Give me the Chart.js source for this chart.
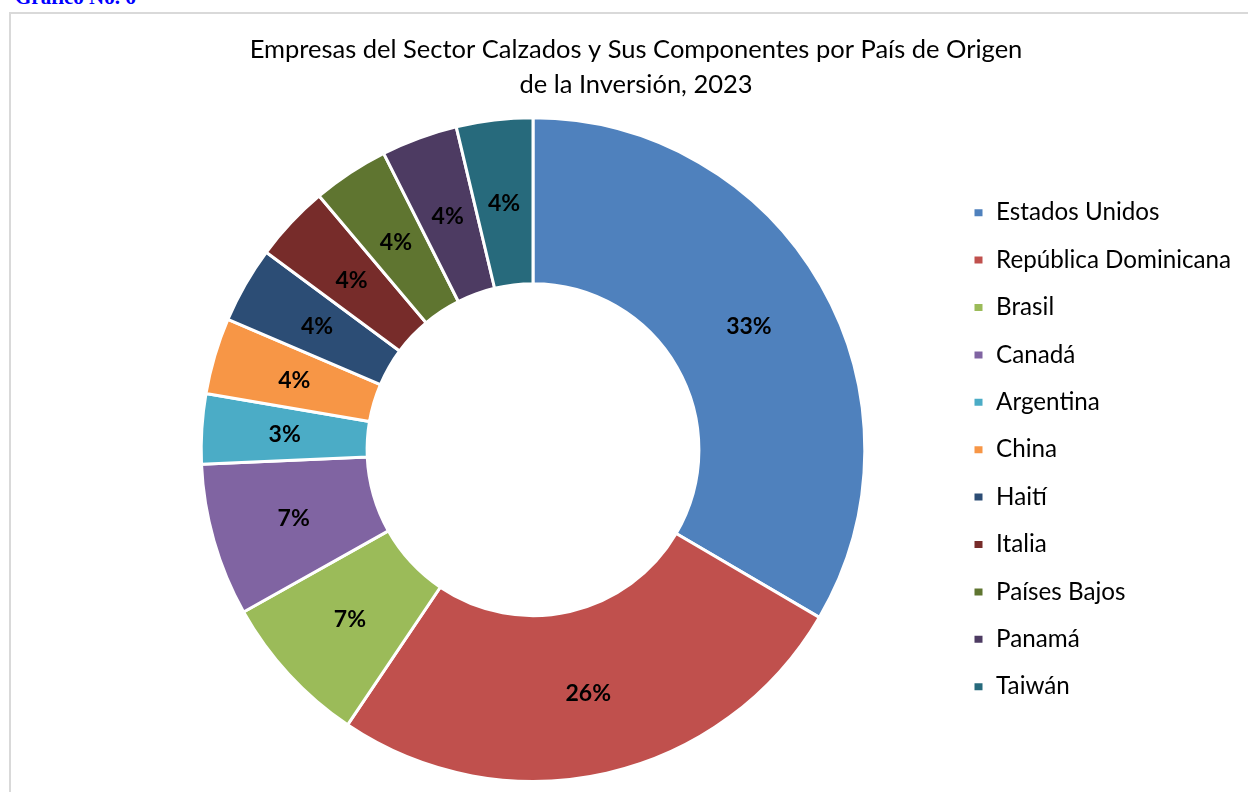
<!DOCTYPE html>
<html>
<head>
<meta charset="utf-8">
<script src="https://cdn.jsdelivr.net/npm/chart.js@4/dist/chart.umd.min.js"></script>
<style>
  html, body { margin: 0; padding: 0; background: #fff; overflow: hidden; }
  body { width: 1248px; height: 792px; position: relative; }
  #caption {
    position: absolute; left: 15px; top: -13px;
    font: bold 21px "Liberation Serif", "DejaVu Serif", serif;
    color: #0000ff; line-height: 1; white-space: nowrap;
  }
  #frame {
    position: absolute; left: 9px; top: 12px; width: 1300px; height: 900px;
    border: 2px solid #d9d9d9; box-sizing: border-box;
  }
  #wrap { position: absolute; left: 0; top: 0; width: 1248px; height: 792px; }
</style>
</head>
<body>
<div id="caption">Gráfico No. 6</div>
<div id="frame"></div>
<div id="wrap"><canvas id="chart"></canvas></div>
<script>
// países y participación (%)
const paises = ['Estados Unidos', 'República Dominicana', 'Brasil', 'Canadá', 'Argentina',
  'China', 'Haití', 'Italia', 'Países Bajos', 'Panamá', 'Taiwán'];
const participacion = [33.3, 25.9, 7.4, 7.4, 3.4, 3.7, 3.7, 3.7, 3.7, 3.7, 3.7];
const colores = ['#4F81BD', '#C0504D', '#9BBB59', '#8064A2', '#4BACC6', '#F79646',
  '#2C4D75', '#772C2A', '#5F7530', '#4D3B62', '#276A7C'];
const titulo = ['Empresas del Sector Calzados y Sus Componentes por País de Origen',
  'de la Inversión, 2023'];

const fuente = 'Lato, "Open Sans", sans-serif';
const tamLeyenda = 24.2;
const sepLeyenda = 47.4 - tamLeyenda;

// ancho de la leyenda para que empiece donde la del original
const medir = document.createElement('canvas').getContext('2d');
medir.font = tamLeyenda + 'px ' + fuente;
const textoMax = Math.max(...paises.map(p => medir.measureText(p).width));
const anchoLeyenda = sepLeyenda + 11 + tamLeyenda / 2 + textoMax + 10;
const inicioLeyenda = 973 - sepLeyenda;
const padDer = 1248 - inicioLeyenda - anchoLeyenda;
const padIzq = 2 * 533 - inicioLeyenda;

// etiquetas de porcentaje dentro de cada sector
const etiquetas = {
  id: 'etiquetas',
  afterDatasetsDraw(chart) {
    const ctx = chart.ctx;
    const meta = chart.getDatasetMeta(0);
    const data = chart.data.datasets[0].data;
    const total = data.reduce((a, b) => a + b, 0);
    ctx.save();
    ctx.font = 'bold 23px ' + fuente;
    ctx.fillStyle = '#000';
    ctx.textAlign = 'center';
    ctx.textBaseline = 'middle';
    meta.data.forEach((arc, i) => {
      const p = arc.tooltipPosition();
      ctx.fillText(Math.round(data[i] / total * 100) + '%', p.x, p.y + 1);
    });
    ctx.restore();
  }
};

// el título del original está centrado en x = 636
const centrarTitulo = {
  id: 'centrarTitulo',
  afterLayout(chart) {
    const t = chart.titleBlock;
    const d = 636 - (t.left + t.right) / 2;
    t.left += d;
    t.right += d;
  }
};

const ctx = document.getElementById('chart').getContext('2d');
new Chart(ctx, {
  type: 'doughnut',
  data: {
    labels: paises,
    datasets: [{
      data: participacion,
      backgroundColor: colores,
      borderColor: '#fff',
      borderWidth: 3,
      hoverOffset: 0
    }]
  },
  options: {
    responsive: true,
    maintainAspectRatio: false,
    animation: false,
    cutout: '50%',
    layout: { padding: { left: padIzq, right: padDer, top: 0, bottom: 9 } },
    plugins: {
      tooltip: { enabled: false },
      title: {
        display: true,
        text: titulo,
        color: '#000',
        font: { family: fuente, size: 25.5, weight: 'normal', lineHeight: 1.37 },
        padding: { top: 32.5, bottom: 14 }
      },
      legend: {
        position: 'right',
        fullSize: false,
        labels: {
          color: '#000',
          boxWidth: 11,
          boxHeight: 10,
          padding: sepLeyenda,
          font: { family: fuente, size: tamLeyenda }
        }
      }
    }
  },
  plugins: [etiquetas, centrarTitulo]
});
</script>
</body>
</html>
